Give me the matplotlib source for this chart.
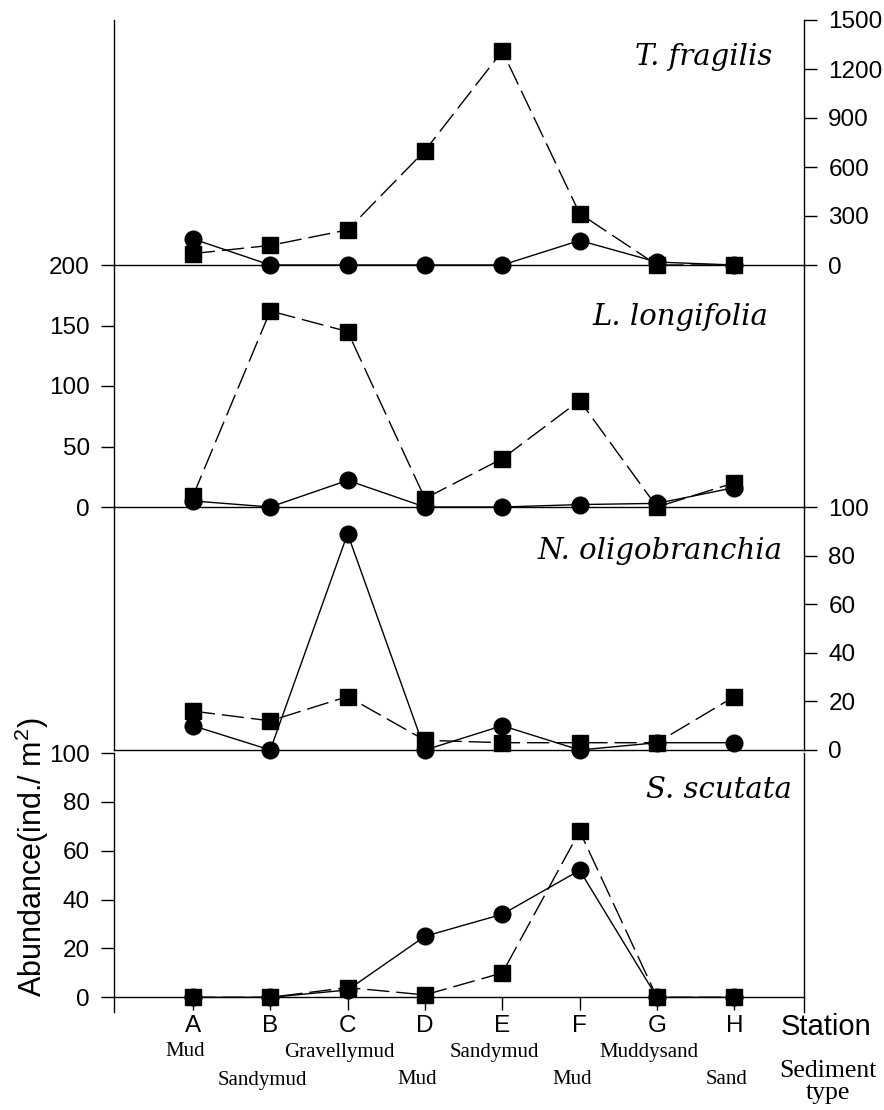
import matplotlib
matplotlib.use('Agg')
import matplotlib.pyplot as plt
from matplotlib.transforms import blended_transform_factory

plt.rcParams['font.family'] = 'sans-serif'
plt.rcParams['font.sans-serif'] = ['Liberation Sans']
plt.rcParams['mathtext.fontset'] = 'custom'
plt.rcParams['mathtext.rm'] = 'Liberation Sans'
plt.rcParams['mathtext.default'] = 'regular'

# stations and sediment types
stations = ['A', 'B', 'C', 'D', 'E', 'F', 'G', 'H']
sediment = ['Mud', 'Sandymud', 'Gravellymud', 'Mud', 'Sandymud', 'Mud', 'Muddysand', 'Sand']

# abundance per species, circles (solid line) and squares (dashed line)
species = ['T. fragilis', 'L. longifolia', 'N. oligobranchia', 'S. scutata']
fragilis_circ = [160, 0, 0, 0, 0, 150, 18, 0]
fragilis_sq = [70, 120, 215, 700, 1310, 315, 0, 0]
longifolia_circ = [5, 0, 22, 0, 0, 2, 3, 16]
longifolia_sq = [9, 162, 145, 7, 40, 88, 0, 20]
oligo_circ = [10, 0, 89, 0, 10, 0, 3, 3]
oligo_sq = [16, 12, 22, 4, 3, 3, 3, 22]
scutata_circ = [0, 0, 3, 25, 34, 52, 0, 0]
scutata_sq = [0, 0, 4, 1, 10, 68, 0, 0]

circ_data = [fragilis_circ, longifolia_circ, oligo_circ, scutata_circ]
sq_data = [fragilis_sq, longifolia_sq, oligo_sq, scutata_sq]
ymax = [1500, 200, 100, 100]
ystep = [300, 50, 20, 20]

W, H = 884, 1110
fig = plt.figure(figsize=(W / 100, H / 100), dpi=100)

x0, x1 = 114, 804
# (top, bottom) of each panel in pixels
rows = [(20, 265), (265, 507), (507, 750), (753, 1012)]
label_pos = [(772, 57), (768, 317), (783, 551), (792, 790)]
xs = list(range(len(stations)))

axes = []
for i in range(4):
    top, bot = rows[i]
    ax = fig.add_axes([x0 / W, 1 - bot / H, (x1 - x0) / W, (bot - top) / H])
    ax.patch.set_alpha(0)
    ax.set_xlim(-1.02, 7.9)
    ymin = -6 if i == 3 else 0
    ax.set_ylim(ymin, ymax[i])
    ax.spines['top'].set_visible(False)
    ax.spines['bottom'].set_position(('data', 0))
    for s in ax.spines.values():
        s.set_linewidth(1)
    ticks = list(range(0, ymax[i] + 1, ystep[i]))
    ax.set_yticks(ticks)
    if i in (0, 2):
        ax.yaxis.tick_right()
    else:
        ax.yaxis.tick_left()
    ax.tick_params(axis='y', length=9.5, width=1, pad=8, labelsize=17.5, direction='out')
    if i < 3:
        ax.set_xticks([])
    else:
        ax.set_xticks(xs)
        ax.set_xticklabels(stations)
        ax.tick_params(axis='x', length=9, width=1, pad=4, labelsize=17.5, direction='out')

    ax.plot(xs, circ_data[i], '-', marker='o', ms=12, color='k', lw=1, clip_on=False, zorder=3)
    ax.plot(xs, sq_data[i], '--', dashes=(16, 5), marker='s', ms=11, color='k', lw=1, clip_on=False, zorder=3)

    lx, ly = label_pos[i]
    fig.text(lx / W, 1 - ly / H, species[i], family='DejaVu Serif', style='italic',
             fontsize=21, ha='right', va='center')
    axes.append(ax)

ax4 = axes[3]
tr = blended_transform_factory(ax4.transData, fig.transFigure)
for i, name in enumerate(sediment):
    yrow = 1052 if i % 2 == 0 else 1080
    ax4.text(i - 0.1, 1 - yrow / H, name, transform=tr, family='Liberation Serif',
             fontsize=15, ha='center', va='center')

fig.text(826 / W, 1 - 1027 / H, 'Station', fontsize=21, ha='center', va='center')
fig.text(828 / W, 1 - 1082 / H, 'Sediment\ntype', family='Liberation Serif', fontsize=18.5,
         ha='center', va='center', linespacing=1.0)
fig.text(32 / W, 1 - 997 / H, 'Abundance(ind./ m$^{2}$)', fontsize=22, rotation=90,
         ha='center', va='bottom')

fig.savefig('out.png', dpi=100)
